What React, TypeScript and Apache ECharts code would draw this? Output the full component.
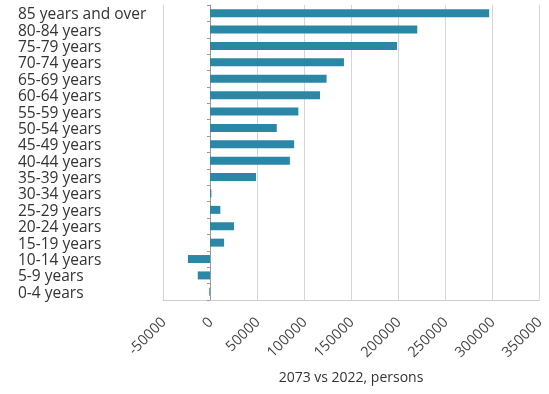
import React, { useEffect, useRef } from "react";
import * as echarts from "echarts";

const categories = [
  "0-4 years",
  "5-9 years",
  "10-14 years",
  "15-19 years",
  "20-24 years",
  "25-29 years",
  "30-34 years",
  "35-39 years",
  "40-44 years",
  "45-49 years",
  "50-54 years",
  "55-59 years",
  "60-64 years",
  "65-69 years",
  "70-74 years",
  "75-79 years",
  "80-84 years",
  "85 years and over",
];

const values = [
  -800, -13000, -23500, 15000, 25500, 11000, 1500, 49000, 85000, 89500, 71000,
  94000, 117000, 124000, 142500, 199000, 220500, 297000,
];

const xMin = -50000;
const xMax = 350000;
const xInterval = 50000;
const xAxisName = "2073 vs 2022, persons";

const FONT = "'Open Sans', 'Noto Sans', sans-serif";

export default function App() {
  const ref = useRef<HTMLDivElement>(null);
  useEffect(() => {
    if (!ref.current) return;
    const chart = echarts.init(ref.current, null, { renderer: "svg" });
    chart.setOption({
      animation: false,
      grid: { left: 163, right: 10, top: 5, bottom: 94, containLabel: false },
      xAxis: {
        type: "value",
        min: xMin,
        max: xMax,
        interval: xInterval,
        name: xAxisName,
        nameLocation: "middle",
        nameGap: 69,
        nameTextStyle: { fontFamily: FONT, fontSize: 14, color: "#333" },
        axisLine: { show: true, lineStyle: { color: "#cccccc", width: 1 } },
        axisTick: { show: false },
        splitLine: { show: true, lineStyle: { color: "#d6d6d6", width: 1 } },
        axisLabel: {
          rotate: 45,
          fontFamily: FONT,
          fontSize: 14.5,
          color: "#444",
          margin: 19,
          formatter: (v: number) => String(v),
        },
      },
      yAxis: [
        {
          type: "category",
          data: categories,
          position: "left",
          axisLine: { show: false, onZero: false },
          axisTick: { show: false },
          axisLabel: {
            interval: 0,
            align: "left",
            margin: 145,
            fontFamily: FONT,
            fontSize: 15.5,
            lineHeight: 16,
            color: "#333",
          },
        },
        {
          type: "category",
          data: categories,
          position: "left",
          axisLine: { show: true, onZero: true, lineStyle: { color: "#999", width: 1 } },
          axisTick: { show: true, interval: 0, length: 3, lineStyle: { color: "#999" } },
          axisLabel: { show: false },
        },
      ],
      series: [
        {
          type: "bar",
          yAxisIndex: 0,
          data: values,
          barWidth: 8,
          itemStyle: { color: "#2a87a6" },
        },
      ],
    });
    return () => chart.dispose();
  }, []);
  return (
    <div
      ref={ref}
      style={{ position: "fixed", left: 0, top: 0, width: 549, height: 394 }}
    />
  );
}
